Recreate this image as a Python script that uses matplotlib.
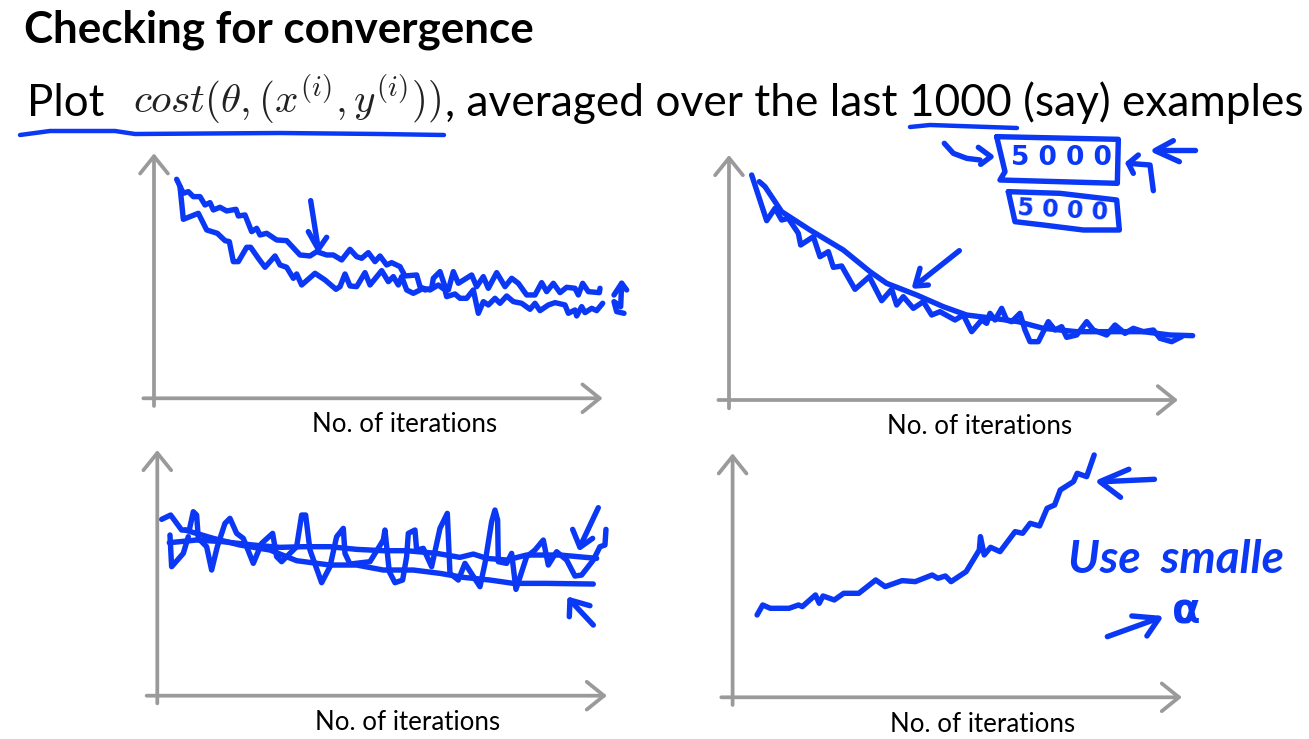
import matplotlib
matplotlib.use("Agg")
import matplotlib.pyplot as plt

W, H = 1309, 739
BLUE = "#0a38f5"
GREY = "#9a9a9a"

TITLE = "Checking for convergence"
PLOT_WORD = "Plot"
COST_FORMULA = r"$cost(\theta,(x^{(i)},y^{(i)}))$"
SUBTITLE_REST = ", averaged over the last 1000 (say) examples"
XLABEL = "No. of iterations"

# Panel 1 (not enough examples, two runs)
p1_upper_x = [68,88,103,118,138,153,168,178,198,218,246,253,273,293,308,318,338,368,398,438,468,488,518,538,563,588,608,623,643,663,678,698,713,738,753,788,798,813,833,838,858,873,883,898,913,953,968,988,1003,1028,1053,1073,1093,1118,1143,1163,1178,1198,1218,1238,1263,1273,1286,1303,1336,1338]
p1_upper_y = [657,615,620,605,605,580,587,565,573,562,567,547,550,500,510,490,495,475,473,430,427,440,430,430,415,447,425,420,437,410,427,400,407,395,367,370,335,325,330,360,380,335,325,380,345,370,335,365,330,377,335,360,345,310,310,347,320,345,317,333,330,310,345,320,317,330]
p1_lower_x = [78,88,133,158,190,213,226,238,253,278,290,313,333,363,378,398,418,428,443,483,513,546,558,573,588,608,633,648,683,703,718,733,743,758,778,808,828,853,873,878,903,918,938,958,973,988,1003,1023,1038,1058,1078,1103,1128,1143,1158,1183,1203,1233,1243,1263,1268,1283,1293,1313,1328,1346]
p1_lower_y = [635,537,555,505,495,473,470,410,410,453,453,420,393,427,400,393,360,373,340,375,355,327,335,373,337,335,377,340,383,350,365,340,365,325,315,330,325,340,325,305,313,300,300,325,255,290,280,300,285,307,290,285,267,285,263,280,287,280,255,265,247,275,257,270,263,285]
p1_marks = [
    ([470,493],[593,447]), ([463,493,518],[500,447,483]),
    ([1410,1388,1380,1400,1403],[255,260,290,275,345]), ([1380,1403,1418],[310,345,325]),
]

# Panel 2 (smooth and noisy runs)
p2_smooth_x = [91,108,158,243,343,423,473,563,643,713,793,868,943,1043,1143,1243,1323,1391]
p2_smooth_y = [655,640,565,510,450,385,350,315,280,255,245,235,215,205,205,205,195,193]
p2_noisy_x = [68,113,138,158,178,208,215,253,273,298,313,338,378,421,458,488,503,523,553,583,608,633,678,703,728,758,773,783,798,818,833,848,873,888,903,928,958,978,998,1013,1043,1073,1093,1133,1158,1188,1213,1243,1273,1293,1328,1358]
p2_noisy_y = [675,538,575,540,545,500,465,490,430,445,398,402,332,370,298,332,285,310,275,295,255,265,240,255,205,240,230,260,240,275,240,235,260,210,175,175,235,210,220,188,195,235,210,195,225,200,215,205,210,185,175,190]
p2_marks = [
    ([691,561],[448,345]), ([573,558,598],[395,342,345]),
    ([803,1168,1165,813,828,803],[790,782,650,660,685,790]),
    ([838,993,1163,1171,1063,943,858,838],[625,620,600,510,510,525,535,625]),
    ([646,673,713,753],[770,740,725,720]), ([748,786,755],[758,730,707]),
    ([1273,1263,1198],[628,705,710]), ([1228,1198,1213],[735,710,680]),
    ([1398,1283],[750,750]), ([1333,1278,1351],[778,748,715]),
]

# Panel 3 (oscillating run with two smoothed curves)
p3_top_x = [36,118,198,288,368,438,518,598,678,748,838,908,948,988,1048,1108,1208,1318]
p3_top_y = [459,467,462,452,445,447,447,439,435,435,427,415,425,412,407,422,422,412]
p3_low_x = [83,168,248,338,418,518,598,678,768,848,918,998,1068,1168,1308]
p3_low_y = [497,472,452,437,405,392,392,377,377,367,355,347,337,337,335]
p3_noisy_x = [13,40,73,96,108,118,123,148,163,180,203,218,238,258,288,313,346,358,373,398,418,433,445,458,493,518,538,558,563,578,638,678,683,696,713,736,748,753,773,778,798,823,848,870,878,903,923,968,983,1003,1013,1021,1023,1048,1063,1076,1108,1133,1158,1173,1198,1228,1253,1273,1308,1328,1343,1346]
p3_noisy_y = [529,542,497,497,552,542,472,447,377,447,517,532,487,472,397,457,487,417,402,427,447,542,542,437,339,387,477,502,427,395,402,467,497,372,339,347,417,487,497,437,442,387,502,547,367,347,397,327,397,522,557,527,402,397,427,319,417,437,467,392,432,407,359,362,407,447,452,499]
p3_spike_x = [38,43,78,93]
p3_spike_y = [482,387,427,477]
p3_marks = [
    ([1323,1268],[564,447]), ([1246,1268,1306],[499,445,472]),
    ([1308,1238],[212,287]), ([1236,1238,1298],[237,287,270]),
]

# Panel 4 (diverging run)
p4_x = [65,80,100,150,175,185,220,230,240,270,295,335,380,405,450,485,530,545,565,580,620,655,658,668,685,710,750,770,790,815,835,855,870,905,915,940,960]
p4_y = [247,277,267,267,277,272,307,282,304,292,312,312,352,332,350,347,367,357,364,347,377,442,482,427,450,437,497,492,522,514,567,577,622,647,672,662,727]
p4_marks = [
    ([1120,985],[654,647]), ([1052,975,1030],[684,647,600]),
    ([995,1130],[182,237]), ([1060,1132,1100],[244,237,184]),
]

# Underlines across the slide text (pixel positions on the slide)
underline_a_x = [20,50,115,135,280,380,444]
underline_a_y = [135,131,131,134,133,134,135]
underline_b_x = [910,930,1017]
underline_b_y = [127,125,128]

plt.rcParams["font.family"] = ["Lato", "DejaVu Sans"]
plt.rcParams["mathtext.fontset"] = "cm"
fig = plt.figure(figsize=(W / 100, H / 100), dpi=100, facecolor="white")


def panel(ox, oy, sx, sy, xr, left, top, bottom, extent):
    """extent = pixel box; data (0,0) lands on pixel (ox, oy); sx, sy = units per pixel."""
    x0, y0, w, h = extent
    ax = fig.add_axes([x0 / W, 1 - (y0 + h) / H, w / W, h / H])
    ax.set_xlim((x0 - ox) * sx, (x0 + w - ox) * sx)
    ax.set_ylim((oy - y0 - h) * sy, (oy - y0) * sy)
    ax.axis("off")
    ax.patch.set_alpha(0)
    style = dict(arrowstyle="->,head_length=0.62,head_width=0.5", color=GREY, lw=2.7,
                 shrinkA=0, shrinkB=0, mutation_scale=20)
    ax.annotate("", xy=(xr, 0), xytext=(left, 0), arrowprops=style, annotation_clip=False)
    ax.annotate("", xy=(0, top), xytext=(0, bottom), arrowprops=style, annotation_clip=False)
    return ax


def ink(ax, x, y, lw=3.9):
    ax.plot(x, y, color=BLUE, lw=lw, solid_joinstyle="round", solid_capstyle="round", clip_on=False)


ax1 = panel(154, 398.3, 3, 3, 1346, -32, 735, -23, (130, 150, 510, 290))
ink(ax1, p1_upper_x, p1_upper_y)
ink(ax1, p1_lower_x, p1_lower_y)
for mx, my in p1_marks:
    ink(ax1, mx, my)

ax2 = panel(729, 400, 3, 3, 1347, -32, 735, -25, (710, 130, 500, 310))
ink(ax2, p2_smooth_x, p2_smooth_y)
ink(ax2, p2_noisy_x, p2_noisy_y)
for mx, my in p2_marks:
    ink(ax2, mx, my)

ax3 = panel(157.3, 695.7, 3, 3, 1349, -32, 737, -23, (130, 440, 510, 295))
ink(ax3, p3_top_x, p3_top_y)
ink(ax3, p3_low_x, p3_low_y)
ink(ax3, p3_noisy_x, p3_noisy_y)
ink(ax3, p3_spike_x, p3_spike_y)
for mx, my in p3_marks:
    ink(ax3, mx, my)

ax4 = panel(732.6, 697.3, 2.655, 3, 1193, -30, 732, -23, (710, 440, 590, 295))
ink(ax4, p4_x, p4_y)
for mx, my in p4_marks:
    ink(ax4, mx, my)

# Slide-level overlay in pixel coordinates
top = fig.add_axes([0, 0, 1, 1])
top.set_xlim(0, W)
top.set_ylim(H, 0)
top.axis("off")
top.patch.set_alpha(0)
ink(top, underline_a_x, underline_a_y, lw=3.2)
ink(top, underline_b_x, underline_b_y, lw=3.2)

top.text(24, 42, TITLE, fontsize=31.6, fontweight="bold", color="black", va="baseline")
top.text(27, 116, PLOT_WORD, fontsize=31.5, color="black", va="baseline")
top.text(133, 113, COST_FORMULA, fontsize=29.6, color="#222222", va="baseline")
top.text(445, 116, SUBTITLE_REST, fontsize=31.9, color="black", va="baseline")

for cx, cy in [(405, 425), (980, 427), (408, 722), (983, 725)]:
    top.text(cx, cy, XLABEL, fontsize=18.6, color="black", ha="center", va="center")

hand = dict(color=BLUE, va="center", ha="center", fontweight="bold", family="DejaVu Sans")
top.text(1061, 158, "5 0 0 0", fontsize=19, **hand)
top.text(1063, 210, "5 0 0 0", fontsize=17, rotation=-3, **hand)
top.text(1176, 560, "Use  smalle", fontsize=33, color=BLUE, ha="center", va="center",
         style="italic", family="Lato", fontweight="bold")
top.text(1186, 612, "α", fontsize=30, color=BLUE, ha="center", va="center",
         family="DejaVu Sans", fontweight="bold")

fig.savefig("out.png", dpi=100, facecolor="white")
